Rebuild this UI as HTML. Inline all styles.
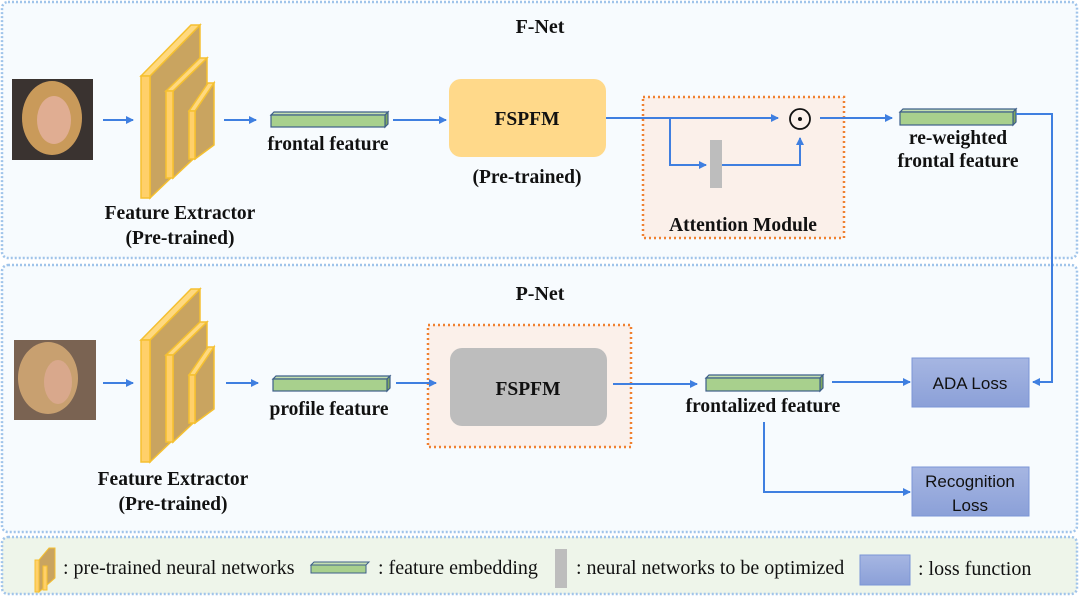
<!DOCTYPE html>
<html><head><meta charset="utf-8"><style>
html,body{margin:0;padding:0;background:#fff;}
svg{display:block;}
.t{font-family:"Liberation Serif",serif;font-weight:bold;font-size:19.5px;fill:#111;text-anchor:middle;}
.l{font-family:"Liberation Sans",sans-serif;font-size:17px;fill:#111;text-anchor:middle;}
.g{font-family:"Liberation Serif",serif;font-size:20px;fill:#111;}
.a{stroke:#3f7fe0;stroke-width:2;fill:none;}
</style></head><body>
<svg width="1080" height="598" viewBox="0 0 1080 598" xmlns="http://www.w3.org/2000/svg">
<defs>
<marker id="ar" markerWidth="8" markerHeight="8" refX="7" refY="4" orient="auto" markerUnits="userSpaceOnUse"><path d="M0,0 L8,4 L0,8 Z" fill="#3f7fe0"/></marker>
<linearGradient id="lb" x1="0" y1="0" x2="0" y2="1"><stop offset="0" stop-color="#a6b6e2"/><stop offset="1" stop-color="#8ba0d8"/></linearGradient>
<g id="ext">
<polygon points="150,76 200,25 200,150 150,198" fill="#c9a460" stroke="#f5c030" stroke-width="1.5"/>
<polygon points="141,76 191,25 200,25 150,76" fill="#ffd97f" stroke="#f5c030" stroke-width="1.5"/>
<rect x="141" y="76" width="9" height="122" fill="#ffd06a" stroke="#f5c030" stroke-width="1.5"/>
<polygon points="173,91 207,58 207,146 173,178" fill="#c9a460" stroke="#f5c030" stroke-width="1.5"/>
<polygon points="166,91 200,58 207,58 173,91" fill="#ffd97f" stroke="#f5c030" stroke-width="1.5"/>
<rect x="166" y="91" width="7" height="87" fill="#ffd06a" stroke="#f5c030" stroke-width="1.5"/>
<polygon points="195,111 214,83 214,145 195,159" fill="#c9a460" stroke="#f5c030" stroke-width="1.5"/>
<polygon points="189,111 208,83 214,83 195,111" fill="#ffd97f" stroke="#f5c030" stroke-width="1.5"/>
<rect x="189" y="111" width="6" height="48" fill="#ffd06a" stroke="#f5c030" stroke-width="1.5"/>
</g>
</defs>
<rect x="2" y="2" width="1075" height="256" rx="6" fill="#f7fbfe" stroke="#a0c4ea" stroke-width="2.5" stroke-dasharray="2,2"/>
<rect x="2" y="265" width="1075" height="267" rx="6" fill="#f7fbfe" stroke="#a0c4ea" stroke-width="2.5" stroke-dasharray="2,2"/>
<rect x="2" y="537" width="1075" height="57" rx="6" fill="#eef5ea" stroke="#a0c4ea" stroke-width="2.5" stroke-dasharray="2,2"/>
<text class="t" x="540" y="33" style="font-size:20px">F-Net</text>
<text class="t" x="540" y="300" style="font-size:20px">P-Net</text>
<rect x="12" y="79" width="81" height="81" fill="#3a3330"/>
<ellipse cx="52" cy="118" rx="30" ry="37" fill="#c99a5a"/>
<ellipse cx="54" cy="120" rx="17" ry="24" fill="#e0ad92"/>
<rect x="14" y="340" width="82" height="80" fill="#7a6352"/>
<ellipse cx="48" cy="378" rx="30" ry="36" fill="#c8a070"/>
<ellipse cx="58" cy="382" rx="14" ry="22" fill="#d9a88c"/>
<use href="#ext"/>
<use href="#ext" transform="translate(0,264)"/>
<text class="t" x="180" y="219">Feature Extractor</text>
<text class="t" x="180" y="244">(Pre-trained)</text>
<text class="t" x="173" y="485">Feature Extractor</text>
<text class="t" x="173" y="510">(Pre-trained)</text>
<line class="a" x1="103" y1="120" x2="133" y2="120" marker-end="url(#ar)"/>
<line class="a" x1="224" y1="120" x2="256" y2="120" marker-end="url(#ar)"/>
<polygon points="271,115 274,112 388,112 385,115" fill="#c5e0b0" stroke="#3e5f8a" stroke-width="1.2"/>
<polygon points="385,115 388,112 388,124 385,127" fill="#7fa860" stroke="#3e5f8a" stroke-width="1.2"/>
<rect x="271" y="115" width="114" height="12" fill="#a8d08d" stroke="#3e5f8a" stroke-width="1.2"/>
<text class="t" x="328" y="150">frontal feature</text>
<line class="a" x1="393" y1="120" x2="446" y2="120" marker-end="url(#ar)"/>
<rect x="449" y="79" width="157" height="78" rx="12" fill="#ffd98a"/>
<text class="t" x="527" y="125">FSPFM</text>
<text class="t" x="527" y="183">(Pre-trained)</text>
<rect x="643" y="97" width="201" height="141" fill="#fbf0ea" stroke="#f08030" stroke-width="2.5" stroke-dasharray="2,3"/>
<line class="a" x1="606" y1="118" x2="778" y2="118" marker-end="url(#ar)"/>
<polyline class="a" points="670,118 670,165 706,165" marker-end="url(#ar)"/>
<rect x="710" y="140" width="12" height="48" fill="#bdbdbd"/>
<polyline class="a" points="722,165 800,165 800,138" marker-end="url(#ar)"/>
<circle cx="800" cy="119" r="10" fill="none" stroke="#111" stroke-width="1.8"/>
<circle cx="800" cy="119" r="2" fill="#111"/>
<text class="t" x="743" y="231">Attention Module</text>
<line class="a" x1="820" y1="118" x2="892" y2="118" marker-end="url(#ar)"/>
<polygon points="900,112 903,109 1016,109 1013,112" fill="#c5e0b0" stroke="#3e5f8a" stroke-width="1.2"/>
<polygon points="1013,112 1016,109 1016,122 1013,125" fill="#7fa860" stroke="#3e5f8a" stroke-width="1.2"/>
<rect x="900" y="112" width="113" height="13" fill="#a8d08d" stroke="#3e5f8a" stroke-width="1.2"/>
<text class="t" x="958" y="144">re-weighted</text>
<text class="t" x="958" y="167">frontal feature</text>
<polyline class="a" points="1016,114 1052,114 1052,382 1033,382" marker-end="url(#ar)"/>
<line class="a" x1="103" y1="383" x2="133" y2="383" marker-end="url(#ar)"/>
<line class="a" x1="226" y1="383" x2="258" y2="383" marker-end="url(#ar)"/>
<polygon points="273,379 276,376 390,376 387,379" fill="#c5e0b0" stroke="#3e5f8a" stroke-width="1.2"/>
<polygon points="387,379 390,376 390,388 387,391" fill="#7fa860" stroke="#3e5f8a" stroke-width="1.2"/>
<rect x="273" y="379" width="114" height="12" fill="#a8d08d" stroke="#3e5f8a" stroke-width="1.2"/>
<text class="t" x="329" y="415">profile feature</text>
<rect x="428" y="325" width="203" height="122" fill="#fbf0ea" stroke="#f08030" stroke-width="2.5" stroke-dasharray="2,3"/>
<line class="a" x1="396" y1="383" x2="436" y2="383" marker-end="url(#ar)"/>
<rect x="450" y="348" width="157" height="78" rx="12" fill="#bdbdbd"/>
<text class="t" x="528" y="395">FSPFM</text>
<line class="a" x1="613" y1="384" x2="697" y2="384" marker-end="url(#ar)"/>
<polygon points="706,378 709,375 823,375 820,378" fill="#c5e0b0" stroke="#3e5f8a" stroke-width="1.2"/>
<polygon points="820,378 823,375 823,388 820,391" fill="#7fa860" stroke="#3e5f8a" stroke-width="1.2"/>
<rect x="706" y="378" width="114" height="13" fill="#a8d08d" stroke="#3e5f8a" stroke-width="1.2"/>
<text class="t" x="763" y="412">frontalized feature</text>
<line class="a" x1="832" y1="382" x2="910" y2="382" marker-end="url(#ar)"/>
<polyline class="a" points="764,422 764,492 910,492" marker-end="url(#ar)"/>
<rect x="912" y="358" width="117" height="49" fill="url(#lb)" stroke="#7b95d6" stroke-width="1"/>
<text class="l" x="970" y="389">ADA Loss</text>
<rect x="912" y="467" width="117" height="49" fill="url(#lb)" stroke="#7b95d6" stroke-width="1"/>
<text class="l" x="970" y="487">Recognition</text>
<text class="l" x="970" y="511">Loss</text>
<g transform="translate(35,548)">
<polygon points="4,12 14,0 20,0 20,30 4,44" fill="#c9a460" stroke="#f5c030"/>
<rect x="0" y="12" width="4" height="32" fill="#ffd06a" stroke="#f5c030"/>
<rect x="8" y="18" width="4" height="24" fill="#ffd06a" stroke="#f5c030"/>
</g>
<text class="g" x="63" y="574">: pre-trained neural networks</text>
<polygon points="311,565 314,562 369,562 366,565" fill="#c5e0b0" stroke="#3e5f8a"/>
<rect x="311" y="565" width="55" height="8" fill="#a8d08d" stroke="#3e5f8a"/>
<text class="g" x="378" y="574">: feature embedding</text>
<rect x="555" y="549" width="12" height="39" fill="#bdbdbd"/>
<text class="g" x="576" y="574">: neural networks to be optimized</text>
<rect x="860" y="555" width="50" height="30" fill="url(#lb)" stroke="#7b95d6"/>
<text class="g" x="918" y="575">: loss function</text>
</svg>
</body></html>
